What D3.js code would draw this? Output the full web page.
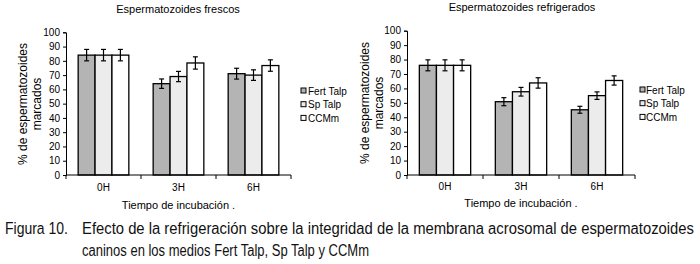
<!DOCTYPE html>
<html>
<head>
<meta charset="utf-8">
<script src="https://cdn.jsdelivr.net/npm/d3@7"></script>
<style>
  body { margin: 0; background: #fff; }
  svg { display: block; font-family: "Liberation Sans", Arial, sans-serif; }
</style>
</head>
<body>
<svg id="fig" width="700" height="264"></svg>
<script>
const categories = ["0H", "3H", "6H"];
const seriesNames = ["Fert Talp", "Sp Talp", "CCMm"];
const yTicks = [0, 10, 20, 30, 40, 50, 60, 70, 80, 90, 100];

// Espermatozoides frescos
const frescosFert = [84, 64, 71];
const frescosSp = [84, 69, 70];
const frescosCCMm = [84, 78.5, 76.7];
const frescosFertErr = [4, 3.3, 3.8];
const frescosSpErr = [4, 3.6, 3.7];
const frescosCCMmErr = [4, 4.3, 4];

// Espermatozoides refrigerados
const refrigFert = [76, 50.8, 45.2];
const refrigSp = [76, 57.7, 55];
const refrigCCMm = [76, 63.8, 65.5];
const refrigFertErr = [3.8, 2.8, 2.4];
const refrigSpErr = [3.8, 3, 2.6];
const refrigCCMmErr = [3.8, 3.6, 3.2];

const fills = ["#b4b4b4", "#ececec", "#ffffff"];

const svg = d3.select("#fig");

function buildRows(a, b, c, ea, eb, ec) {
  return categories.map((cat, i) => ({
    cat,
    values: [
      { name: seriesNames[0], v: a[i], e: ea[i] },
      { name: seriesNames[1], v: b[i], e: eb[i] },
      { name: seriesNames[2], v: c[i], e: ec[i] },
    ],
  }));
}

function drawChart(cfg) {
  const g = svg.append("g");
  const x0 = d3.scaleBand().domain(categories).range([cfg.left, cfg.right]).padding(0);
  const x1 = d3.scaleBand().domain(seriesNames).range([0, x0.bandwidth()])
    .paddingInner(0).paddingOuter(0.72);
  const y = d3.scaleLinear().domain([0, 100]).range([cfg.bottom, cfg.top]);

  // title
  g.append("text")
    .attr("x", cfg.titleX).attr("y", cfg.titleY)
    .attr("text-anchor", "middle")
    .style("font-size", "11px")
    .text(cfg.title);

  // bars
  const groups = g.selectAll(".grp").data(cfg.rows).enter().append("g")
    .attr("transform", (d) => `translate(${x0(d.cat)},0)`);

  groups.selectAll("rect").data((d) => d.values).enter().append("rect")
    .attr("x", (d) => x1(d.name))
    .attr("y", (d) => y(d.v))
    .attr("width", x1.bandwidth())
    .attr("height", (d) => y(0) - y(d.v))
    .style("fill", (d, i) => fills[i])
    .style("stroke", "#000")
    .style("stroke-width", 1.3);

  // error bars
  const eb = groups.selectAll(".err").data((d) => d.values).enter().append("g");
  eb.append("line")
    .attr("x1", (d) => x1(d.name) + x1.bandwidth() / 2)
    .attr("x2", (d) => x1(d.name) + x1.bandwidth() / 2)
    .attr("y1", (d) => y(d.v + d.e))
    .attr("y2", (d) => y(d.v - d.e))
    .style("stroke", "#000").style("stroke-width", 1.2);
  [1, -1].forEach((s) => {
    eb.append("line")
      .attr("x1", (d) => x1(d.name) + x1.bandwidth() / 2 - 2.5)
      .attr("x2", (d) => x1(d.name) + x1.bandwidth() / 2 + 2.5)
      .attr("y1", (d) => y(d.v + s * d.e))
      .attr("y2", (d) => y(d.v + s * d.e))
      .style("stroke", "#000").style("stroke-width", 1.2);
  });

  // y axis
  const yAxis = d3.axisLeft(y).tickValues(yTicks).tickSize(3).tickPadding(3);
  const ya = g.append("g").attr("transform", `translate(${cfg.left},0)`).call(yAxis);
  ya.selectAll("text").style("font-size", "10px").style("fill", "#000");
  ya.select(".domain").style("stroke", "#000");

  // x axis: ticks between categories
  const xa = g.append("g").attr("transform", `translate(0,${cfg.bottom})`);
  xa.append("line").attr("x1", cfg.left).attr("x2", cfg.right)
    .style("stroke", "#000");
  const bounds = categories.map((c) => x0(c)).concat([x0(categories[2]) + x0.bandwidth()]);
  xa.selectAll(".tk").data(bounds).enter().append("line")
    .attr("x1", (d) => d).attr("x2", (d) => d)
    .attr("y1", 0).attr("y2", 4)
    .style("stroke", "#000");
  xa.selectAll(".lbl").data(categories).enter().append("text")
    .attr("x", (d) => x0(d) + x0.bandwidth() / 2)
    .attr("y", cfg.catY - cfg.bottom)
    .attr("text-anchor", "middle")
    .style("font-size", "10px")
    .text((d) => d);

  // axis titles
  g.append("text")
    .attr("x", (cfg.left + cfg.right) / 2).attr("y", cfg.xTitleY)
    .attr("text-anchor", "middle")
    .style("font-size", "11px")
    .text("Tiempo de incubación .");

  const yt = g.append("text")
    .attr("transform", `translate(${cfg.yTitleX},${cfg.yTitleCY}) rotate(-90)`)
    .attr("text-anchor", "middle")
    .style("font-size", "12px");
  yt.append("tspan").attr("x", 0).attr("y", 0).text("% de espermatozoides");
  yt.append("tspan").attr("x", 0).attr("y", 14).text("marcados");

  // legend
  const lg = g.selectAll(".lg").data(seriesNames).enter().append("g")
    .attr("transform", (d, i) => `translate(${cfg.legX},${cfg.legY + i * 13.7})`);
  lg.append("rect")
    .attr("x", 0).attr("y", -3).attr("width", 5).attr("height", 5)
    .style("fill", (d, i) => fills[i])
    .style("stroke", "#000").style("stroke-width", 1);
  lg.append("text")
    .attr("x", cfg.legTextDx).attr("y", 3.5)
    .style("font-size", "10px")
    .text((d) => d);
}

drawChart({
  title: "Espermatozoides frescos",
  rows: buildRows(frescosFert, frescosSp, frescosCCMm, frescosFertErr, frescosSpErr, frescosCCMmErr),
  left: 66, right: 291, top: 32.3, bottom: 175,
  titleX: 178, titleY: 13,
  catY: 191, xTitleY: 209,
  yTitleX: 27, yTitleCY: 104,
  legX: 301, legY: 91, legTextDx: 7,
});

drawChart({
  title: "Espermatozoides refrigerados",
  rows: buildRows(refrigFert, refrigSp, refrigCCMm, refrigFertErr, refrigSpErr, refrigCCMmErr),
  left: 407, right: 635, top: 30.7, bottom: 175,
  titleX: 522, titleY: 11,
  catY: 190, xTitleY: 207,
  yTitleX: 369, yTitleCY: 103,
  legX: 640, legY: 90, legTextDx: 6,
});

// caption (narrow face: smaller size stretched vertically)
const cap = svg.append("g").style("fill", "#111");
cap.append("text").attr("transform", "translate(5,234) scale(1,1.18)")
  .style("font-size", "14px").text("Figura 10.");
cap.append("text").attr("transform", "translate(82,234) scale(1,1.18)")
  .style("font-size", "13.4px")
  .attr("textLength", 612).attr("lengthAdjust", "spacingAndGlyphs")
  .text("Efecto de la refrigeración sobre la integridad de la membrana acrosomal de espermatozoides");
cap.append("text").attr("transform", "translate(82,256) scale(1,1.18)")
  .style("font-size", "13.4px")
  .attr("textLength", 287).attr("lengthAdjust", "spacingAndGlyphs")
  .text("caninos en los medios Fert Talp, Sp Talp y CCMm");
</script>
</body>
</html>
